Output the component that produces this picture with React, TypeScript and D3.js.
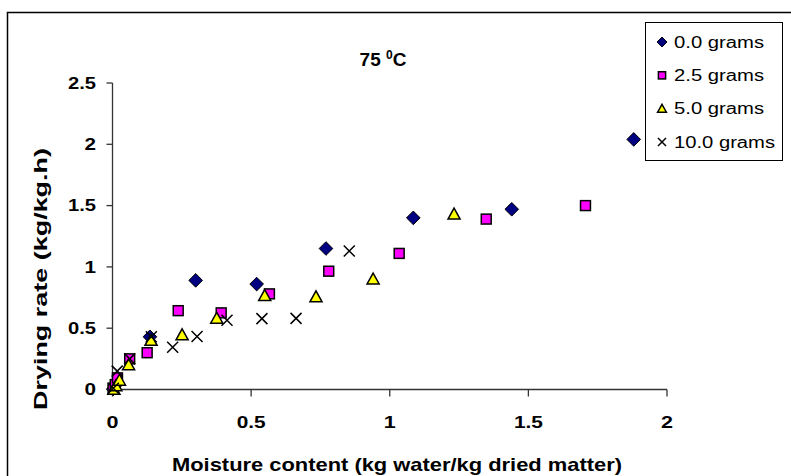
import React from "react";
import * as d3 from "d3";

const series0: [number, number][] = [
  [0.003, 0.005], [0.008, 0.03], [0.015, 0.06], [0.135, 0.43], [0.3, 0.89],
  [0.52, 0.86], [0.77, 1.15], [1.085, 1.4], [1.44, 1.47], [1.88, 2.04],
];
const series25: [number, number][] = [
  [0.002, 0.01], [0.01, 0.04], [0.018, 0.095], [0.062, 0.25], [0.125, 0.3],
  [0.237, 0.643], [0.392, 0.625], [0.566, 0.78], [0.78, 0.965], [1.034, 1.11],
  [1.348, 1.39], [1.706, 1.5],
];
const series50: [number, number][] = [
  [0.005, 0.0], [0.012, 0.03], [0.025, 0.075], [0.058, 0.2], [0.139, 0.4],
  [0.251, 0.445], [0.376, 0.58], [0.549, 0.765], [0.734, 0.755], [0.94, 0.9],
  [1.232, 1.43],
];
const series100: [number, number][] = [
  [0.003, 0.01], [0.017, 0.15], [0.062, 0.25], [0.14, 0.43], [0.217, 0.345],
  [0.305, 0.432], [0.413, 0.565], [0.539, 0.578], [0.662, 0.58], [0.854, 1.13],
];
const seriesNames = ["0.0 grams", "2.5 grams", "5.0 grams", "10.0 grams"];
const xTicks = [0, 0.5, 1, 1.5, 2];
const yTicks = [0, 0.5, 1, 1.5, 2, 2.5];

const FONT = "'Liberation Sans', Arial, sans-serif";

function Marker({ kind, x, y, s }: { kind: number; x: number; y: number; s: number }) {
  if (kind === 0) {
    const r = s * 0.62;
    return (
      <path
        d={`M${x},${y - r}L${x + r},${y}L${x},${y + r}L${x - r},${y}Z`}
        fill="#000080"
        stroke="#000"
        strokeWidth={1}
      />
    );
  }
  if (kind === 1) {
    const h = s * 0.45;
    return <rect x={x - h} y={y - h} width={2 * h} height={2 * h} fill="#FF00FF" stroke="#000" strokeWidth={1.5} />;
  }
  if (kind === 2) {
    const h = s * 0.55;
    return (
      <path
        d={`M${x},${y - h}L${x + h},${y + h * 0.8}L${x - h},${y + h * 0.8}Z`}
        fill="#FFFF00"
        stroke="#000"
        strokeWidth={1.5}
      />
    );
  }
  const h = s * 0.5;
  return (
    <path d={`M${x - h},${y - h}L${x + h},${y + h}M${x - h},${y + h}L${x + h},${y - h}`} stroke="#000" strokeWidth={1.5} fill="none" />
  );
}

export default function App() {
  const x = d3.scaleLinear().domain([0, 2]).range([112.5, 667]);
  const y = d3.scaleLinear().domain([0, 2.5]).range([389.5, 83]);
  const all = [series0, series25, series50, series100];
  const legendY = d3.scaleLinear().domain([0, 3]).range([42, 142]);
  const fmt = d3.format("");

  return (
    <svg width={791} height={476} style={{ position: "absolute", left: 0, top: 0 }} fontFamily={FONT}>
      <rect x={0} y={0} width={791} height={476} fill="#fff" />
      <rect x={7.5} y={12.5} width={800} height={480} fill="none" stroke="#000" strokeWidth={1.5} />
      {/* axes */}
      <line x1={x(0)} x2={x(0)} y1={y(2.5)} y2={y(0)} stroke="#333" strokeWidth={1.3} />
      <line x1={x(0)} x2={x(2)} y1={y(0)} y2={y(0)} stroke="#333" strokeWidth={1.3} />
      {yTicks.map((t) => {
        const s = fmt(t);
        return (
          <g key={"y" + t}>
            <line x1={x(0) - 6} x2={x(0)} y1={y(t)} y2={y(t)} stroke="#333" strokeWidth={1.3} />
            <text
              x={96}
              y={y(t)}
              dy="0.36em"
              textAnchor="end"
              fontSize={16}
              fontWeight="bold"
              textLength={s.length === 1 ? 11.5 : 28}
              lengthAdjust="spacingAndGlyphs"
            >
              {s}
            </text>
          </g>
        );
      })}
      {xTicks.map((t) => {
        const s = fmt(t);
        return (
          <g key={"x" + t}>
            <line x1={x(t)} x2={x(t)} y1={y(0)} y2={y(0) + 7} stroke="#333" strokeWidth={1.3} />
            <text
              x={x(t)}
              y={428}
              textAnchor="middle"
              fontSize={17}
              fontWeight="bold"
              textLength={s.length === 1 ? 12 : 29}
              lengthAdjust="spacingAndGlyphs"
            >
              {s}
            </text>
          </g>
        );
      })}
      {/* axis titles */}
      <text
        x={397}
        y={471}
        textAnchor="middle"
        fontSize={19}
        fontWeight="bold"
        textLength={450}
        lengthAdjust="spacingAndGlyphs"
      >
        Moisture content (kg water/kg dried matter)
      </text>
      <text
        transform={`translate(47,279) rotate(-90)`}
        textAnchor="middle"
        fontSize={18}
        fontWeight="bold"
        textLength={262}
        lengthAdjust="spacingAndGlyphs"
      >
        Drying rate (kg/kg.h)
      </text>
      {/* title */}
      <text x={383} y={66} textAnchor="middle" fontSize={19} fontWeight="bold">
        75 <tspan dy={-7} fontSize={12}>0</tspan>
        <tspan dy={7}>C</tspan>
      </text>
      {/* data */}
      {all.map((s, i) => (
        <g key={"s" + i}>
          {s.map((d, j) => (
            <Marker key={j} kind={i} x={x(d[0])} y={y(d[1])} s={11} />
          ))}
        </g>
      ))}
      {/* legend */}
      <rect x={645.5} y={22.5} width={137} height={138} fill="#fff" stroke="#000" strokeWidth={1} />
      {seriesNames.map((n, i) => (
        <g key={n}>
          <Marker kind={i} x={662} y={legendY(i)} s={8} />
          <text
            x={674}
            y={legendY(i)}
            dy="0.36em"
            fontSize={16}
            textLength={n.length === 9 ? 90 : 101}
            lengthAdjust="spacingAndGlyphs"
          >
            {n}
          </text>
        </g>
      ))}
    </svg>
  );
}
